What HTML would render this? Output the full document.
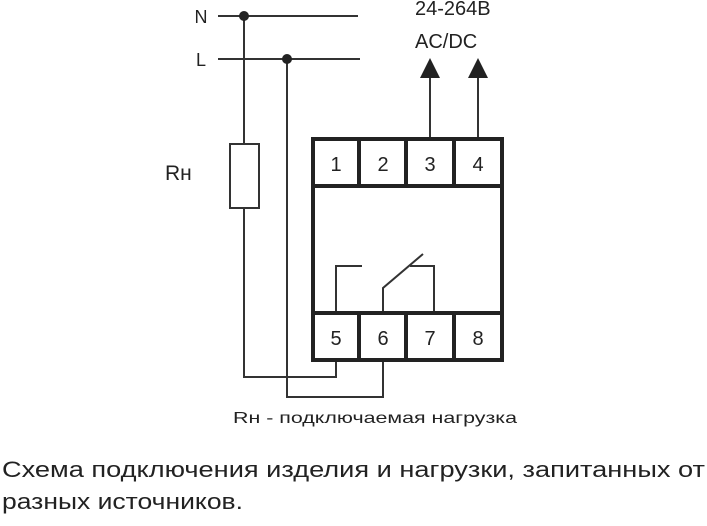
<!DOCTYPE html>
<html><head><meta charset="utf-8"><style>
body{margin:0;background:#fff;width:707px;height:521px;overflow:hidden}
svg text{font-family:"Liberation Sans",sans-serif;fill:#222}
</style></head><body>
<svg width="707" height="521" viewBox="0 0 707 521" xmlns="http://www.w3.org/2000/svg">
<g stroke="#333" stroke-width="2" fill="none">
<line x1="218" y1="16" x2="358" y2="16"/>
<line x1="218" y1="59" x2="360" y2="59"/>
<polyline points="244,16 244,144"/>
<rect x="230" y="144" width="29" height="64"/>
<polyline points="244,208 244,377 336,377 336,361"/>
<polyline points="287,59 287,397 383,397 383,361"/>
<line x1="430" y1="76" x2="430" y2="137"/>
<line x1="478" y1="76" x2="478" y2="137"/>
<polyline points="336,311 336,266 362,266"/>
<polyline points="383,311 383,288 423,254"/>
<polyline points="434,311 434,266 410,266"/>
</g>
<circle cx="244" cy="16" r="5" fill="#222"/>
<circle cx="287" cy="59" r="5" fill="#222"/>
<polygon points="430,58 420,78 440,78" fill="#222"/>
<polygon points="478,58 468,78 488,78" fill="#222"/>
<g stroke="#222" stroke-width="4" fill="none">
<rect x="313" y="139" width="189" height="221"/>
<line x1="313" y1="186" x2="502" y2="186"/>
<line x1="313" y1="313" x2="502" y2="313"/>
<line x1="359" y1="139" x2="359" y2="186"/>
<line x1="406" y1="139" x2="406" y2="186"/>
<line x1="454" y1="139" x2="454" y2="186"/>
<line x1="359" y1="313" x2="359" y2="360"/>
<line x1="406" y1="313" x2="406" y2="360"/>
<line x1="454" y1="313" x2="454" y2="360"/>
</g>
<g font-size="20" text-anchor="middle">
<text x="336" y="171">1</text><text x="383" y="171">2</text><text x="430" y="171">3</text><text x="478" y="171">4</text>
<text x="336" y="345">5</text><text x="383" y="345">6</text><text x="430" y="345">7</text><text x="478" y="345">8</text>
</g>
<text x="201" y="23" font-size="18" text-anchor="middle">N</text>
<text x="201" y="66" font-size="18" text-anchor="middle">L</text>
<text x="165" y="180" font-size="21">Rн</text>
<text x="415" y="15" font-size="20">24-264В</text>
<text x="415" y="48" font-size="20">AC/DC</text>
<text x="233" y="423" font-size="16" textLength="284" lengthAdjust="spacingAndGlyphs">Rн - подключаемая нагрузка</text>
<text x="2" y="477" font-size="22" textLength="703" lengthAdjust="spacingAndGlyphs">Схема подключения изделия и нагрузки, запитанных от</text>
<text x="2" y="509" font-size="22" textLength="241" lengthAdjust="spacingAndGlyphs">разных источников.</text>
</svg>
</body></html>
